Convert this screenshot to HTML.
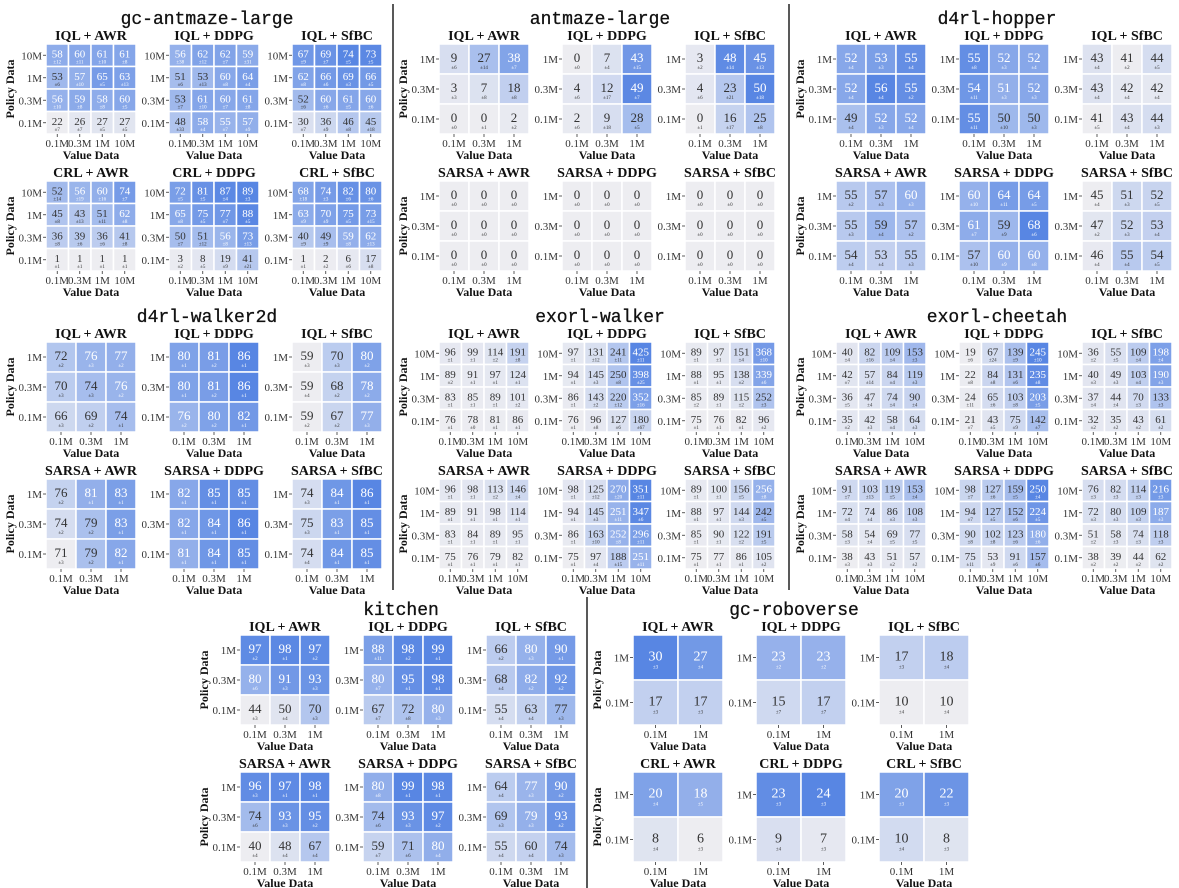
<!DOCTYPE html>
<html><head><meta charset="utf-8"><style>
html,body{margin:0;padding:0;background:#fff;}
svg{display:block;}
</style></head><body>
<svg id="chart" width="1179" height="888" viewBox="0 0 1179 888" xmlns="http://www.w3.org/2000/svg"></svg>
<script>
const ticks4 = ['10M','1M','0.3M','0.1M'];
const xticks4 = ['0.1M','0.3M','1M','10M'];
const ticks3 = ['1M','0.3M','0.1M'];
const xticks3 = ['0.1M','0.3M','1M'];
const ticks2 = ['1M','0.1M'];
const xticks2 = ['0.1M','1M'];
const namesIQL = ['IQL + AWR','IQL + DDPG','IQL + SfBC'];
const namesCRL = ['CRL + AWR','CRL + DDPG','CRL + SfBC'];
const namesSARSA = ['SARSA + AWR','SARSA + DDPG','SARSA + SfBC'];

const gcAntmazeValues = [
 [[58,60,61,61],[53,57,65,63],[56,59,58,60],[22,26,27,27]],
 [[56,62,62,59],[51,53,60,64],[53,61,60,61],[48,58,55,57]],
 [[67,69,74,73],[62,66,69,66],[52,60,61,60],[30,36,46,45]],
 [[52,56,60,74],[45,43,51,62],[36,39,36,41],[1,1,1,1]],
 [[72,81,87,89],[65,75,77,88],[50,51,56,73],[3,8,19,41]],
 [[68,74,82,80],[63,70,75,73],[40,49,59,62],[1,2,6,17]]];
const gcAntmazeStd = [
 [[12,11,10,8],[6,10,5,13],[10,8,8,5],[7,7,5,5]],
 [[38,12,7,31],[6,13,8,4],[7,10,7,8],[33,4,7,9]],
 [[9,7,5,5],[8,6,3,5],[6,6,5,6],[7,9,8,18]],
 [[14,19,16,7],[8,13,11,8],[8,6,6,8],[1,1,1,1]],
 [[5,5,4,3],[8,5,7,5],[7,12,8,13],[2,5,9,21]],
 [[18,3,6,6],[9,9,5,15],[9,9,8,13],[1,2,6,8]]];

const antmazeValues = [
 [[9,27,38],[3,7,18],[0,0,2]],
 [[0,7,43],[4,12,49],[2,9,28]],
 [[3,48,45],[4,23,50],[0,16,25]],
 [[0,0,0],[0,0,0],[0,0,0]],
 [[0,0,0],[0,0,0],[0,0,0]],
 [[0,0,0],[0,0,0],[0,0,0]]];
const antmazeStd = [
 [[6,14,7],[3,8,8],[0,1,2]],
 [[0,4,15],[6,17,7],[6,18,5]],
 [[2,14,13],[6,21,18],[1,17,8]],
 [[0,0,0],[0,0,0],[0,0,0]],
 [[0,0,0],[0,0,0],[0,0,0]],
 [[0,0,0],[0,0,0],[0,0,0]]];

const hopperValues = [
 [[52,53,55],[52,56,55],[49,52,52]],
 [[55,52,52],[54,51,52],[55,50,50]],
 [[43,41,44],[43,42,42],[41,43,44]],
 [[55,57,60],[55,59,57],[54,53,55]],
 [[60,64,64],[61,59,68],[57,60,60]],
 [[45,51,52],[47,52,53],[46,55,54]]];
const hopperStd = [
 [[4,3,4],[4,4,2],[4,3,4]],
 [[8,3,4],[11,3,3],[11,10,3]],
 [[4,2,5],[4,4,4],[5,4,3]],
 [[2,3,3],[3,4,2],[4,4,3]],
 [[10,11,5],[7,9,6],[10,9,8]],
 [[4,3,5],[2,3,4],[4,4,5]]];

const walker2dValues = [
 [[72,76,77],[70,74,76],[66,69,74]],
 [[80,81,86],[80,81,86],[76,80,82]],
 [[59,70,80],[59,68,78],[59,67,77]],
 [[76,81,83],[74,79,83],[71,79,82]],
 [[82,85,85],[82,84,86],[81,84,85]],
 [[74,84,86],[75,83,85],[74,84,85]]];
const walker2dStd = [
 [[2,3,2],[3,3,2],[3,2,1]],
 [[1,2,1],[1,2,1],[2,2,1]],
 [[3,3,2],[4,2,2],[2,2,3]],
 [[2,1,1],[2,2,1],[3,2,1]],
 [[1,1,1],[1,1,1],[1,1,1]],
 [[3,1,1],[3,1,1],[4,1,1]]];

const exorlWalkerValues = [
 [[96,99,114,191],[89,91,97,124],[83,85,89,101],[76,78,81,86]],
 [[97,131,241,425],[94,145,250,398],[86,143,220,352],[76,96,127,180]],
 [[89,97,151,368],[88,95,138,339],[85,89,115,252],[75,76,82,96]],
 [[96,98,113,146],[89,91,98,114],[83,84,89,95],[75,76,79,82]],
 [[98,125,270,351],[94,145,251,347],[86,163,252,296],[75,97,188,251]],
 [[89,100,156,256],[88,97,144,242],[85,90,122,191],[75,77,86,105]]];
const exorlWalkerStd = [
 [[1,1,2,8],[2,1,1,1],[1,1,1,2],[1,0,1,1]],
 [[1,12,11,11],[1,3,8,25],[1,2,12,16],[1,8,6,67]],
 [[1,1,4,10],[1,1,2,6],[2,1,2,3],[1,1,1,2]],
 [[1,1,2,4],[1,1,1,1],[1,1,1,1],[1,1,1,1]],
 [[1,12,20,11],[1,3,11,6],[1,10,8,11],[1,4,15,11]],
 [[1,1,5,8],[1,1,3,5],[1,1,2,5],[1,1,1,2]]];

const exorlCheetahValues = [
 [[40,82,109,153],[42,57,84,119],[36,47,74,90],[35,42,58,64]],
 [[19,67,139,245],[22,84,131,235],[24,65,103,203],[21,43,75,142]],
 [[36,55,109,198],[40,49,103,190],[37,44,70,133],[32,35,43,61]],
 [[91,103,119,153],[72,74,86,108],[58,54,69,77],[38,43,51,57]],
 [[98,127,159,250],[94,127,152,224],[90,102,123,180],[75,53,91,157]],
 [[76,82,114,216],[72,80,109,187],[51,58,74,118],[38,39,44,62]]];
const exorlCheetahStd = [
 [[4,16,4,3],[7,14,4,3],[5,4,4,4],[2,3,4,3]],
 [[6,24,9,10],[8,8,6,8],[11,6,8,5],[7,5,9,7]],
 [[2,5,4,4],[3,3,4,3],[4,4,3,3],[2,2,2,2]],
 [[7,13,5,4],[4,4,3,3],[3,4,5,5],[3,3,2,2]],
 [[7,6,5,4],[7,5,6,5],[8,8,6,6],[11,9,6,6]],
 [[3,3,3,3],[3,3,3,3],[2,3,3,3],[2,2,2,2]]];

const kitchenValues = [
 [[97,98,97],[80,91,93],[44,50,70]],
 [[88,98,99],[80,95,98],[67,72,80]],
 [[66,80,90],[68,82,92],[55,63,77]],
 [[96,97,98],[74,93,95],[40,48,67]],
 [[80,99,98],[74,93,97],[59,71,80]],
 [[64,77,90],[69,79,93],[55,60,74]]];
const kitchenStd = [
 [[2,1,2],[6,3,3],[3,4,3]],
 [[11,2,1],[7,1,1],[7,8,3]],
 [[2,3,1],[4,2,2],[4,4,3]],
 [[3,1,1],[6,3,2],[4,4,4]],
 [[8,1,1],[6,3,2],[7,6,4]],
 [[4,3,2],[3,3,2],[4,4,3]]];

const roboverseValues = [
 [[30,27],[17,17]],
 [[23,23],[15,17]],
 [[17,18],[10,10]],
 [[20,18],[8,6]],
 [[23,24],[9,7]],
 [[20,22],[10,8]]];
const roboverseStd = [
 [[3,4],[3,3]],
 [[2,2],[7,7]],
 [[3,4],[4,4]],
 [[4,5],[4,3]],
 [[3,3],[4,3]],
 [[3,3],[4,3]]];

const panels = [
 {title:'gc-antmaze-large', slug:'gc-antmaze-large', x0:0, y0:0, vals:gcAntmazeValues, std:gcAntmazeStd, yt:ticks4, xt:xticks4, names:[namesIQL,namesCRL]},
 {title:'antmaze-large', slug:'antmaze-large', x0:393, y0:0, vals:antmazeValues, std:antmazeStd, yt:ticks3, xt:xticks3, names:[namesIQL,namesSARSA]},
 {title:'d4rl-hopper', slug:'d4rl-hopper', x0:790, y0:0, vals:hopperValues, std:hopperStd, yt:ticks3, xt:xticks3, names:[namesIQL,namesSARSA]},
 {title:'d4rl-walker2d', slug:'d4rl-walker2d', x0:0, y0:298, vals:walker2dValues, std:walker2dStd, yt:ticks3, xt:xticks3, names:[namesIQL,namesSARSA]},
 {title:'exorl-walker', slug:'exorl-walker', x0:393, y0:298, vals:exorlWalkerValues, std:exorlWalkerStd, yt:ticks4, xt:xticks4, names:[namesIQL,namesSARSA]},
 {title:'exorl-cheetah', slug:'exorl-cheetah', x0:790, y0:298, vals:exorlCheetahValues, std:exorlCheetahStd, yt:ticks4, xt:xticks4, names:[namesIQL,namesSARSA]},
 {title:'kitchen', slug:'kitchen', x0:194, y0:591, vals:kitchenValues, std:kitchenStd, yt:ticks3, xt:xticks3, names:[namesIQL,namesSARSA]},
 {title:'gc-roboverse', slug:'gc-roboverse', x0:587, y0:591, vals:roboverseValues, std:roboverseStd, yt:ticks2, xt:xticks2, names:[namesIQL,namesCRL]}
];

const NS = 'http://www.w3.org/2000/svg';
const svg = document.getElementById('chart');
const SERIF = '"Liberation Serif", serif';
function mk(tag, attrs, parent, text) {
  const e = document.createElementNS(NS, tag);
  for (const k in attrs) e.setAttribute(k, attrs[k]);
  if (text !== undefined) e.textContent = text;
  (parent || svg).appendChild(e);
  return e;
}
function lerp(a,b,t){return a+(b-a)*t;}
function cmap(t) {
  const stops = [[0,[237,237,241]],[0.5,[176,196,238]],[1,[88,134,227]]];
  let i = t < 0.5 ? 0 : 1;
  const a = stops[i], b = stops[i+1];
  const u = (t - a[0]) / (b[0] - a[0]);
  const c = a[1].map((v,k)=>Math.round(lerp(v,b[1][k],u)));
  return 'rgb(' + c.join(',') + ')';
}

const sepA = mk('line',{x1:393,y1:4,x2:393,y2:590,stroke:'#222','stroke-width':1.5});


const sepB = mk('line',{x1:789,y1:4,x2:789,y2:590,stroke:'#222','stroke-width':1.5});


const sepC = mk('line',{x1:587,y1:597,x2:587,y2:888,stroke:'#222','stroke-width':1.5});



const HM = 90;
panels.forEach(p => {
  const g = mk('g', {});
  
  
  const t = mk('text', {x:p.x0+207, y:p.y0+24, 'text-anchor':'middle', 'font-family':'"Liberation Mono", monospace', 'font-size':18, fill:'#111', stroke:'#111', 'stroke-width':0.3}, g, p.title);
  
  
  const nr = p.yt.length, nc = p.xt.length;
  const cw = HM / nc, ch = HM / nr;
  const fs = nc === 4 ? 11 : (nc === 3 ? 13 : 14);
  for (let rowG = 0; rowG < 2; rowG++) {
    let mn = Infinity, mx = -Infinity;
    for (let k = 0; k < 3; k++) p.vals[rowG*3+k].forEach(r => r.forEach(v => {mn = Math.min(mn,v); mx = Math.max(mx,v);}));
    const span = (mx - mn) || 1;
    for (let k = 0; k < 3; k++) {
      const idx = rowG*3 + k;
      const name = p.names[rowG][k];
      const hx = p.x0 + 46 + 123*k, hy = p.y0 + 44 + 137*rowG;
      const hg = mk('g', {}, g);
      
      
      const st = mk('text', {x:hx+HM/2, y:hy-4, 'text-anchor':'middle', 'font-family':SERIF, 'font-weight':'bold', 'font-size':14, fill:'#111'}, hg, name);
      
      
      const vals = p.vals[idx], sd = p.std[idx];
      for (let r = 0; r < nr; r++) for (let c = 0; c < nc; c++) {
        const v = vals[r][c];
        const tt = (v - mn) / span;
        const cx = hx + c*cw, cy = hy + r*ch;
        const cell = mk('rect', {x:cx, y:cy, width:cw, height:ch, fill:cmap(tt), stroke:'#fff', 'stroke-width':1.5}, hg);
        
        
        const col = tt > 0.62 ? '#fff' : '#333';
        const vt = mk('text', {x:cx+cw/2, y:cy+ch/2+fs*0.22, 'text-anchor':'middle', 'font-family':SERIF, 'font-size':fs, fill:col}, hg, String(v));
        
        
        const sdt = mk('text', {x:cx+cw/2, y:cy+ch/2+fs*0.22+fs*0.55, 'text-anchor':'middle', 'font-family':SERIF, 'font-size':5, fill:col}, hg, '\u00b1' + sd[r][c]);
        
        
      }
      for (let r = 0; r < nr; r++) {
        const yy = hy + (r+0.5)*ch;
        mk('line', {x1:hx-3, y1:yy, x2:hx, y2:yy, stroke:'#333', 'stroke-width':0.8}, hg);
        const yl = mk('text', {x:hx-4, y:yy+4, 'text-anchor':'end', 'font-family':SERIF, 'font-size':11, fill:'#333'}, hg, p.yt[r]);
        
        
      }
      for (let c = 0; c < nc; c++) {
        const xx = hx + (c+0.5)*cw;
        mk('line', {x1:xx, y1:hy+HM, x2:xx, y2:hy+HM+3, stroke:'#333', 'stroke-width':0.8}, hg);
        const xl = mk('text', {x:xx, y:hy+HM+13, 'text-anchor':'middle', 'font-family':SERIF, 'font-size':11, fill:'#333'}, hg, p.xt[c]);
        
        
      }
      const xa = mk('text', {x:hx+HM/2, y:hy+HM+25, 'text-anchor':'middle', 'font-family':SERIF, 'font-weight':'bold', 'font-size':12, fill:'#111'}, hg, 'Value Data');
      
      
      if (k === 0) {
        const ly = hy + HM/2;
        const ya = mk('text', {x:p.x0+14, y:ly, 'text-anchor':'middle', 'font-family':SERIF, 'font-weight':'bold', 'font-size':12, fill:'#111', transform:'rotate(-90 ' + (p.x0+14) + ' ' + ly + ')'}, hg, 'Policy Data');
        
        
      }
    }
  }
});
</script>
</body></html>
